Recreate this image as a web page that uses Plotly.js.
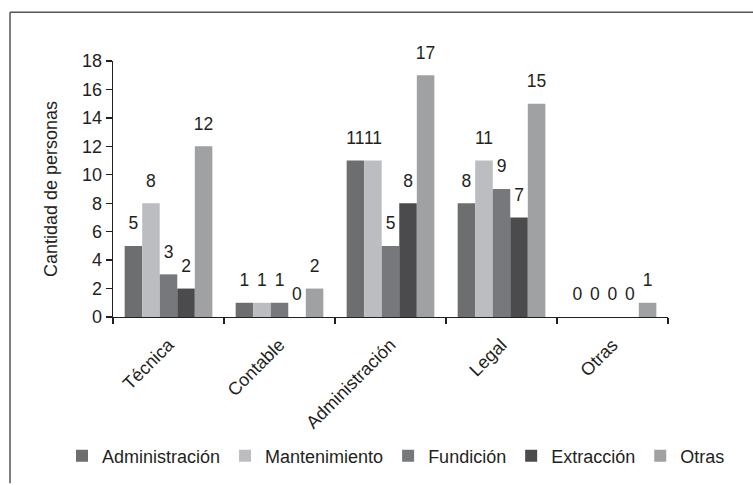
<!DOCTYPE html>
<html>
<head>
<meta charset="utf-8">
<script src="https://cdn.plot.ly/plotly-3.0.1.min.js"></script>
<style>html,body{margin:0;padding:0;background:#fff}#chart{width:753px;height:485px}</style>
</head>
<body>
<div id="chart"></div>
<script>
const categories = ["Técnica", "Contable", "Administración", "Legal", "Otras"];
const seriesNames = ["Administración", "Mantenimiento", "Fundición", "Extracción", "Otras"];
const administracion = [5, 1, 11, 8, 0];
const mantenimiento = [8, 1, 11, 11, 0];
const fundicion = [3, 1, 5, 9, 0];
const extraccion = [2, 0, 8, 7, 0];
const otras = [12, 2, 17, 15, 1];
const yTicks = [0, 2, 4, 6, 8, 10, 12, 14, 16, 18];

const values = [administracion, mantenimiento, fundicion, extraccion, otras];
const colors = ["#6d6e70", "#bcbdc0", "#77787b", "#4b4b4d", "#a0a1a3"];

const FONT = "Liberation Sans, Arial, sans-serif";
const TXT = "#231f20";
const LABEL_LIFT = 0.68; // transparent spacer (in y units) that lifts value labels above bars

const barTraces = values.map((v, i) => ({
  type: "bar",
  name: seriesNames[i],
  x: categories,
  y: v,
  offsetgroup: String(i),
  marker: {color: colors[i], line: {width: 0}},
  hoverinfo: "skip"
}));

const labelTraces = values.map((v, i) => ({
  type: "bar",
  name: seriesNames[i] + " etiqueta",
  showlegend: false,
  x: categories,
  base: v,
  y: v.map(() => LABEL_LIFT),
  offsetgroup: String(i),
  marker: {color: "rgba(0,0,0,0)", line: {width: 0}},
  text: v.map(String),
  texttemplate: "%{text}",
  textposition: "outside",
  constraintext: "none",
  cliponaxis: false,
  textfont: {family: FONT, size: 17.5, color: TXT},
  hoverinfo: "skip"
}));

const W = 753, H = 485;
const m = {l: 113, r: 85, t: 61, b: 167};
const pw = W - m.l - m.r, ph = H - m.t - m.b;
const px = x => (x - m.l) / pw;
const py = y => 1 - (y - m.t) / ph;

const layout = {
  width: W, height: H,
  margin: m,
  paper_bgcolor: "#fff",
  plot_bgcolor: "#fff",
  barmode: "group",
  bargap: 0.21,
  bargroupgap: 0,
  font: {family: FONT, size: 18, color: TXT},
  showlegend: true,
  legend: {
    orientation: "h",
    x: px(62), xanchor: "left",
    y: py(456), yanchor: "middle",
    font: {family: FONT, size: 18, color: TXT},
    itemwidth: 30,
    traceorder: "normal"
  },
  xaxis: {
    type: "category",
    showline: true, linecolor: TXT, linewidth: 1.3,
    ticks: "outside", tickson: "boundaries", ticklen: 6, tickcolor: TXT, tickwidth: 1.3,
    tickangle: -45,
    ticklabelstandoff: 9,
    tickfont: {family: FONT, size: 18, color: TXT},
    showgrid: false, zeroline: false
  },
  yaxis: {
    range: [0, 18],
    tickvals: yTicks,
    showline: true, linecolor: TXT, linewidth: 1.3,
    ticks: "outside", ticklen: 6, tickcolor: TXT, tickwidth: 1.3,
    tickfont: {family: FONT, size: 18, color: TXT},
    showgrid: false, zeroline: false,
    title: {text: "Cantidad de personas", font: {family: FONT, size: 18, color: TXT}, standoff: 19}
  },
  shapes: [
    {type: "line", xref: "paper", yref: "paper", x0: px(10), x1: px(753), y0: py(12), y1: py(12), line: {color: "#555", width: 1.5}},
    {type: "line", xref: "paper", yref: "paper", x0: px(10), x1: px(10), y0: py(12), y1: py(485), line: {color: "#555", width: 1.5}}
  ]
};

Plotly.newPlot("chart", barTraces.concat(labelTraces), layout, {displayModeBar: false, staticPlot: true});
</script>
</body>
</html>
